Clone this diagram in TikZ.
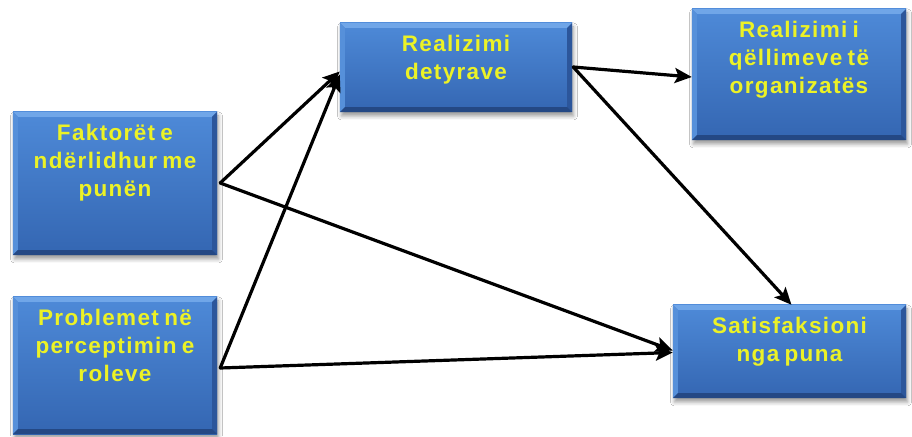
\documentclass[tikz,border=0pt]{standalone}
\usepackage{fontspec}
\setmainfont{Liberation Sans}
\newfontfamily\boxfont[LetterSpace=6,WordSpace=0.7]{Liberation Sans Bold}
\usetikzlibrary{arrows.meta,shadows.blur,calc}

\definecolor{boxtop}{RGB}{78,138,216}
\definecolor{boxbot}{RGB}{52,102,178}
\definecolor{bevlight}{RGB}{112,166,232}
\definecolor{bevleft}{RGB}{86,144,218}
\definecolor{bevright}{RGB}{44,86,155}
\definecolor{bevdark}{RGB}{36,72,132}
\definecolor{labelyellow}{RGB}{236,242,38}

\tikzset{
  panel/.style={rectangle, inner sep=0pt, draw=none,
    top color=boxtop, bottom color=boxbot,
    blur shadow={shadow xshift=1.5pt, shadow yshift=-4pt,
                 shadow blur radius=4pt, shadow opacity=40}},
  paneltext/.style={anchor=north, inner sep=0pt, align=center,
    text=labelyellow, font=\boxfont\fontsize{22.5}{28}\selectfont},
  link/.style={line width=3.2pt, black, line cap=round, line join=round,
    -{Stealth[length=17pt,width=15pt,inset=3.5pt]}}
}

% bevelled rim of a panel
\newcommand\bevelrim[1]{%
  \fill[bevlight] (#1.north west) -- (#1.north east) -- ($(#1.north east)+(-5,-5)$) -- ($(#1.north west)+(5,-5)$) -- cycle;
  \fill[bevleft] (#1.north west) -- ($(#1.north west)+(5,-5)$) -- ($(#1.south west)+(5,5)$) -- (#1.south west) -- cycle;
  \fill[bevright] (#1.north east) -- ($(#1.north east)+(-5,-5)$) -- ($(#1.south east)+(-5,5)$) -- (#1.south east) -- cycle;
  \fill[bevdark] (#1.south west) -- (#1.south east) -- ($(#1.south east)+(-5,5)$) -- ($(#1.south west)+(5,5)$) -- cycle;
}

\begin{document}
\begin{tikzpicture}[x=1pt,y=1pt]
  \useasboundingbox (0,0) rectangle (912,436);
  \fill[white] (0,0) rectangle (912,436);

  % panels
  \node[panel, minimum width=204pt, minimum height=143pt] (b1) at (115,252.5) {};
  \node[panel, minimum width=204pt, minimum height=137pt] (b2) at (115,70.5) {};
  \node[panel, minimum width=232pt, minimum height=89pt]  (b3) at (456,368.5) {};
  \node[panel, minimum width=214pt, minimum height=131pt] (b4) at (799,361.5) {};
  \node[panel, minimum width=233pt, minimum height=93pt]  (b5) at (789.5,84.5) {};

  \bevelrim{b1}
  \bevelrim{b2}
  \bevelrim{b3}
  \bevelrim{b4}
  \bevelrim{b5}

  % panel captions
  \node[paneltext] (t1) at ($(b1.north)+(0,-9.4)$) {\strut Faktorët e\\ndërlidhur me\\punën};
  \node[paneltext] (t2) at ($(b2.north)+(0,-9.4)$) {\strut Problemet në\\perceptimin e\\roleve};
  \node[paneltext] (t3) at ($(b3.north)+(0,-9.4)$) {\strut Realizimi\\detyrave};
  \node[paneltext] (t4) at ($(b4.north)+(0,-9.4)$) {\strut Realizimi i\\qëllimeve të\\organizatës};
  \node[paneltext] (t5) at ($(b5.north)+(0,-9.4)$) {\strut Satisfaksioni\\nga puna};

  % branching points of the connectors
  \coordinate (h1) at ($(b1.east)+(3,0.5)$);
  \coordinate (h2) at ($(b2.east)+(3,-2.5)$);
  \coordinate (h3) at ($(b3.east)+(1,0.5)$);

  % connectors
  \draw[link] (h1) -- ($(b3.west)+(0,-4)$);
  \draw[link] (h2) -- ($(b3.west)+(0,-7)$);
  \draw[link] (h1) -- ($(b5.west)+(0,1)$);
  \draw[link] (h2) -- ($(b5.west)+(0,-1)$);
  \draw[link] (h3) -- ($(b4.west)+(0,-2.5)$);
  \draw[link] (h3) -- ($(b5.north)+(2,0)$);
\end{tikzpicture}
\end{document}
